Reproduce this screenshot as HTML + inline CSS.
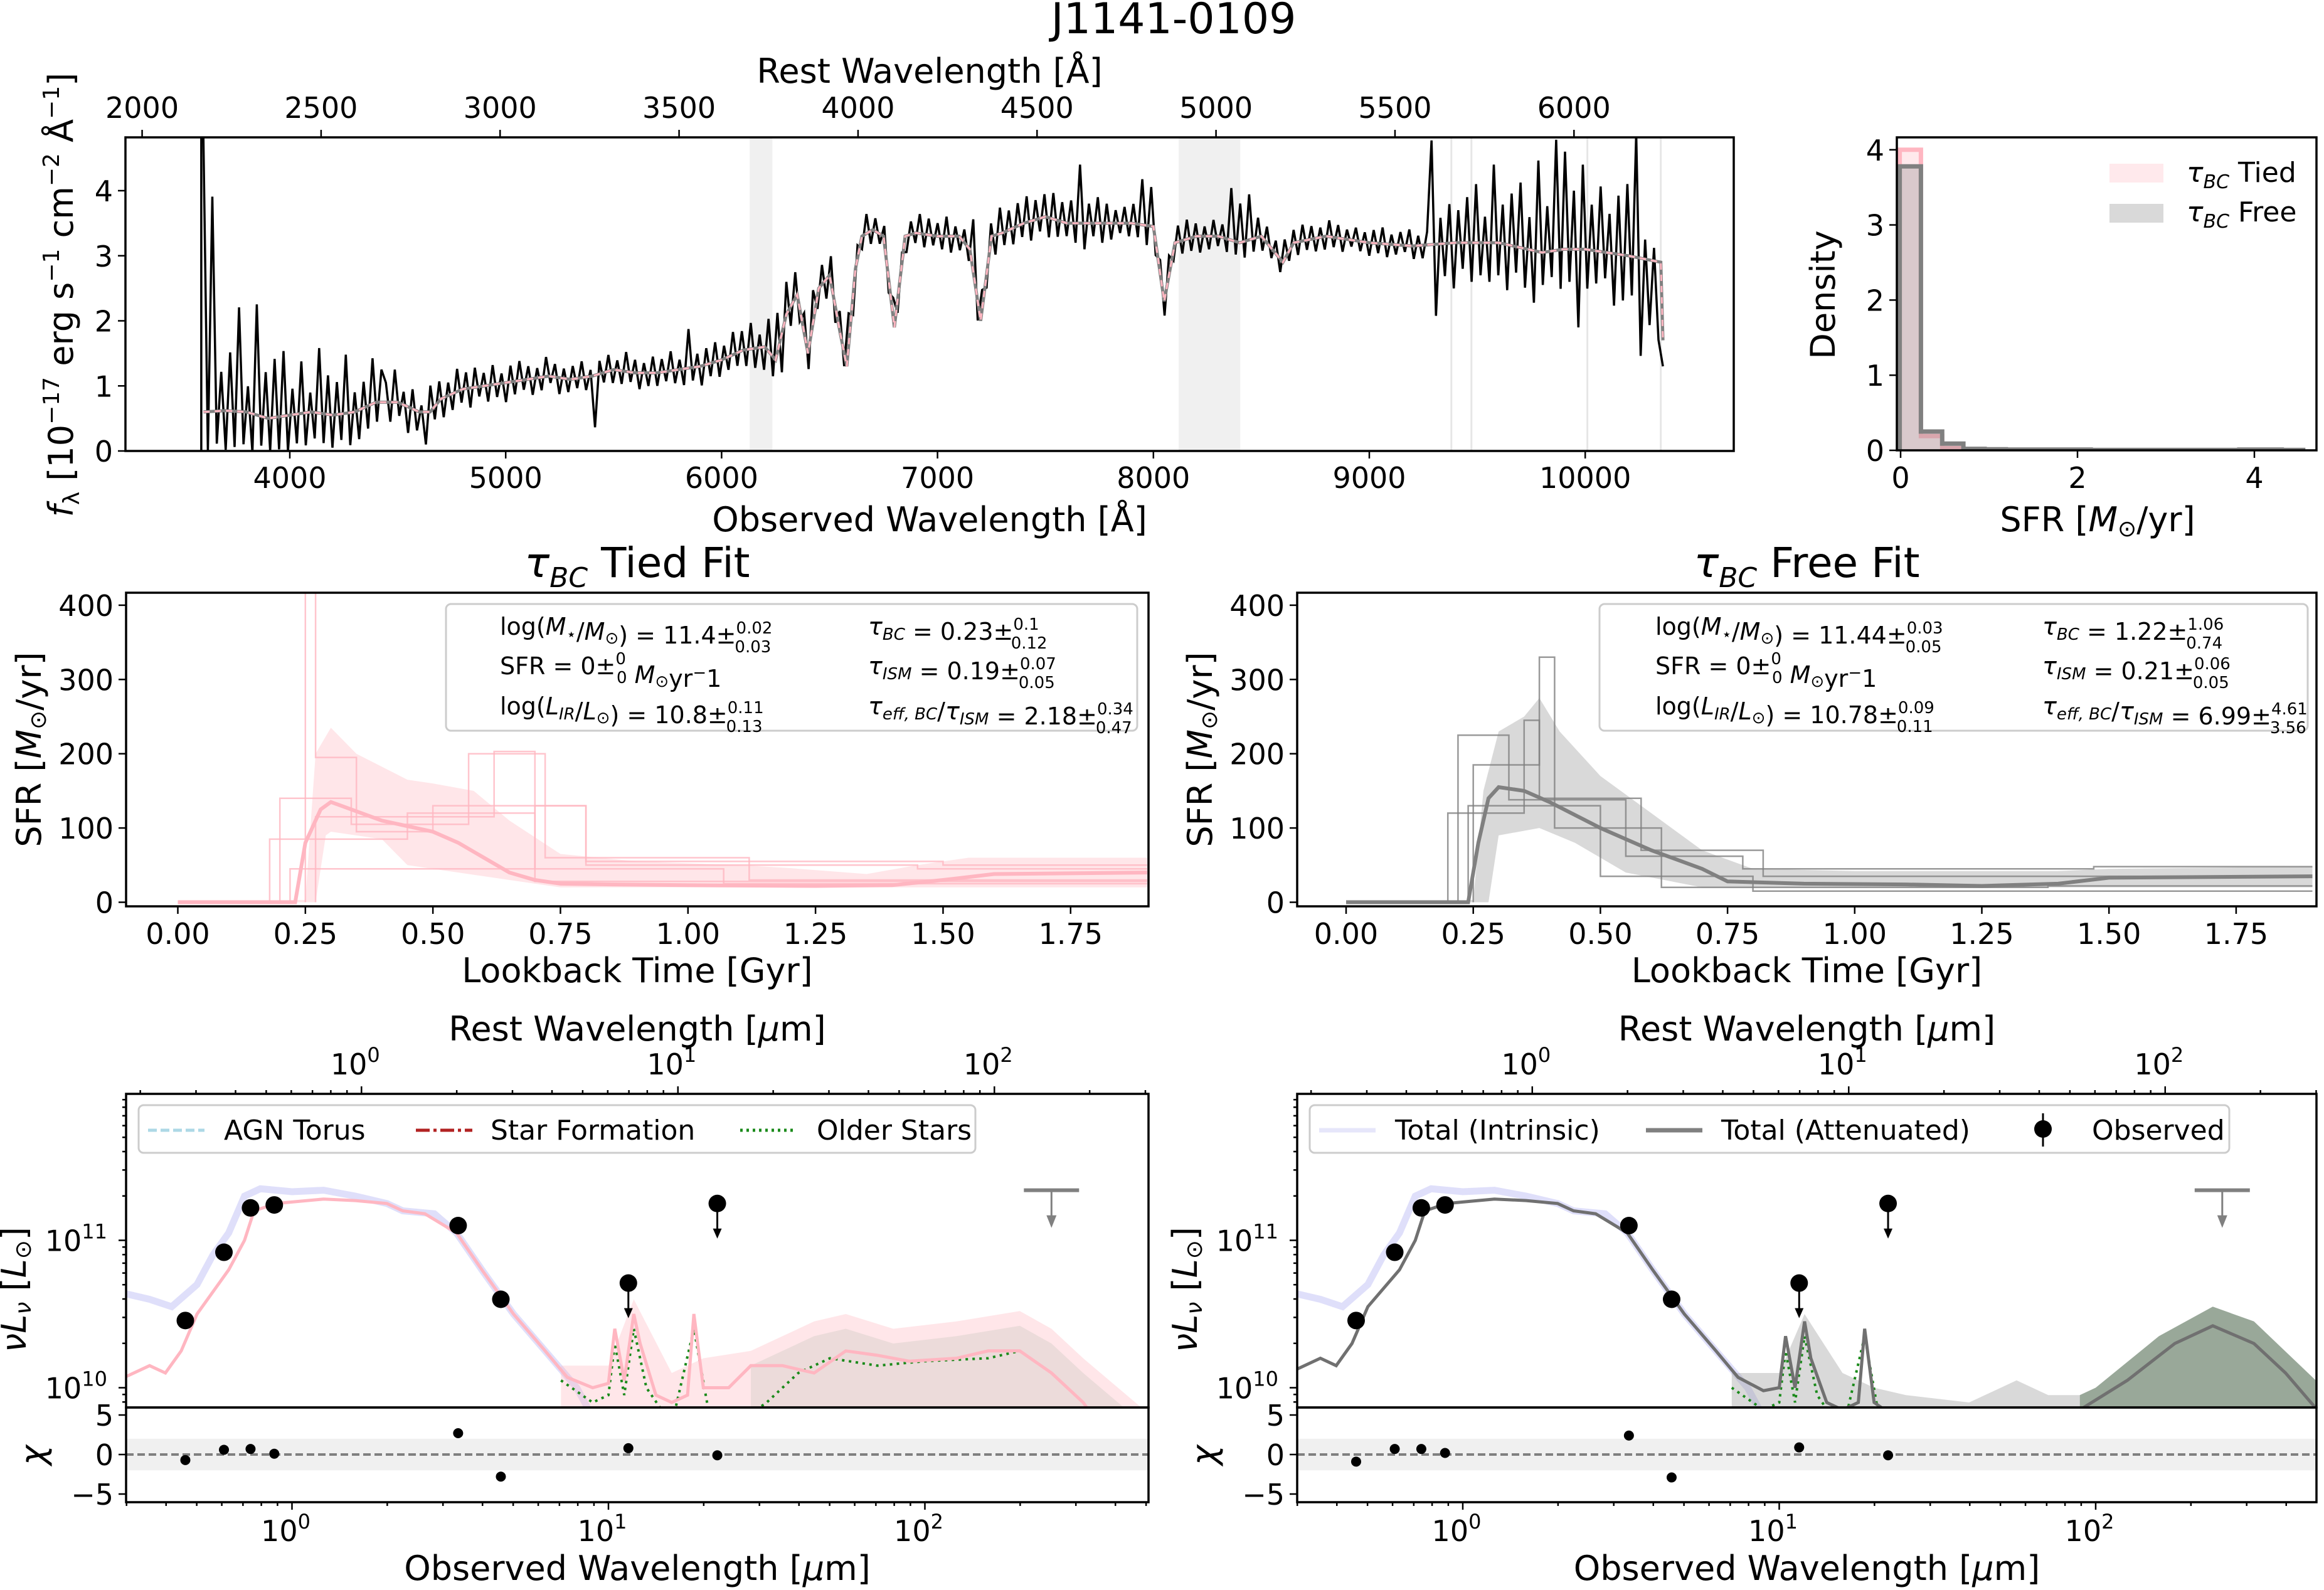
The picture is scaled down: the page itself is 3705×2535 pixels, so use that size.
<!DOCTYPE html>
<html><head><meta charset="utf-8">
<style>
html,body{margin:0;padding:0;background:#fff;}
svg{display:block;font-family:"DejaVu Sans","Liberation Sans",sans-serif;}
</style></head>
<body>
<svg id="fig" xmlns="http://www.w3.org/2000/svg" width="3705" height="2535" viewBox="0 0 3705 2535">
<rect width="3705" height="2535" fill="#fff"/>
<text x="1871" y="53" font-size="68" text-anchor="middle">J1141-0109</text>
</svg>
<script>
// ---------- DATA ----------
const specStart=3600;
const specEnd=10360;
const specDev=[4.2,-0.6,3.3,-0.5,0.6,-0.6,0.9,-0.55,1.6,-0.5,0.4,-0.6,1.7,-0.45,0.7,-0.5,0.9,-0.5,1.0,-0.55,0.4,-0.45,0.8,-0.5,0.3,-0.4,1.0,-0.45,0.6,-0.5,0.5,-0.4,0.9,-0.5,0.3,-0.45,0.4,-0.35,0.7,-0.3,0.5,
0.3,-0.3,0.5,-0.2,0.2,-0.4,0.3,-0.3,0.1,-0.5,0.4,-0.2,0.3,-0.3,0.2,-0.25,0.35,-0.2,0.25,-0.3,0.3,-0.15,0.2,-0.25,0.3,-0.2,0.15,-0.3,0.25,-0.2,0.3,-0.15,0.2,-0.25,0.15,-0.2,0.3,-0.1,0.2,-0.25,0.15,-0.2,0.2,-0.15,0.25,-0.2,0.1,-0.8,0.2,-0.15,0.25,-0.2,0.15,-0.2,0.3,-0.15,0.2,-0.25,0.15,-0.2,0.25,-0.2,0.2,-0.15,0.3,-0.2,0.15,-0.25,0.6,-0.2,0.2,-0.3,0.25,-0.2,0.3,-0.25,0.2,-0.2,0.35,-0.2,
0.3,-0.25,0.4,-0.3,0.2,-0.35,0.5,-0.3,0.6,-0.6,0.5,-0.3,0.4,-0.2,0.3,-0.3,0.5,-0.2,0.3,-0.3,0.4,-0.25,0.3,-0.2,0.5,-0.3,0.2,-0.2,0.3,-0.2,
0.2,-0.15,0.25,-0.2,0.3,-0.2,0.15,-0.25,0.2,-0.15,
0.3,-0.2,0.25,-0.15,0.2,-0.2,0.3,-0.25,0.15,-0.2,
0.2,-0.2,0.8,-0.3,0.3,-0.2,0.25,-0.3,0.4,-0.2,
0.3,-0.25,0.35,-0.2,0.4,-0.3,0.3,-0.2,0.35,-0.3,
0.4,-0.25,0.3,-0.2,0.35,-0.3,0.9,-0.4,0.3,-0.2,
0.4,-0.3,0.3,-0.25,0.2,-0.15,0.25,-0.2,0.3,-0.2,
0.7,-0.3,0.6,-0.2,0.2,-0.25,0.3,-0.15,0.25,-0.2,
0.3,-0.2,0.2,-0.25,0.15,-0.2,0.25,-0.15,0.2,-0.2,
0.8,-0.2,0.6,-0.25,0.7,-0.2,0.3,-0.2,0.25,-0.15,
0.2,-0.2,0.3,-0.15,0.2,-0.2,0.25,-0.15,0.2,-0.2,
0.15,-0.2,0.25,-0.15,0.2,-0.2,0.15,-0.1,0.2,-0.15,
0.15,-0.2,0.2,-0.15,0.25,-0.2,0.15,-0.15,0.2,-0.1,
0.25,-0.2,0.15,-0.2,0.2,
1.6,-1.1,0.4,-0.5,0.6,-0.7,0.5,-0.4,0.7,-0.6,0.9,-0.5,0.4,-0.6,1.2,-0.5,0.6,-0.7,0.8,-0.4,1.0,-0.6,0.5,-0.8,1.4,-0.5,0.7,-0.4,1.7,-0.6,1.5,-0.5,0.9,-1.2,1.3,-0.6,0.7,-0.5,1.0,-0.4,0.6,-0.8,0.9,-0.7,1.1,-0.6,1.9,-1.5,0.3,-1.0,0.2,-1.2,-0.4];
const modelWave=[3600,3700,3800,3900,4000,4100,4200,4300,4400,4500,4600,4650,4700,4800,4900,5000,5100,5200,5300,5400,5500,5600,5700,5800,5900,6000,6100,6200,6250,6300,6350,6400,6450,6500,6550,6580,6620,6650,6700,6750,6800,6850,6900,7000,7100,7150,7200,7250,7300,7400,7500,7600,7700,7800,7900,8000,8050,8100,8200,8300,8400,8500,8600,8650,8800,8900,9000,9200,9400,9600,9800,9900,10000,10100,10200,10350,10360];
const modelFlux=[0.6,0.62,0.6,0.5,0.55,0.6,0.55,0.6,0.75,0.75,0.6,0.6,0.8,0.95,1.0,1.05,1.1,1.15,1.1,1.15,1.25,1.2,1.2,1.25,1.3,1.4,1.55,1.6,1.4,2.1,2.4,1.5,2.5,2.7,1.8,1.3,2.8,3.3,3.4,3.3,1.9,3.3,3.35,3.3,3.3,3.1,2.0,3.3,3.35,3.5,3.6,3.5,3.5,3.5,3.5,3.45,2.3,3.2,3.3,3.3,3.2,3.3,2.9,3.2,3.3,3.25,3.2,3.15,3.2,3.2,3.05,3.1,3.1,3.05,3.0,2.9,1.7];
const maskedRanges=[[6130,6235],[8117,8402]];
const maskedLines=[9380,9473,10010,10350];
const specXTicks=[4000,5000,6000,7000,8000,9000,10000];
const specYTicks=[0,1,2,3,4];
const restTicks=[2000,2500,3000,3500,4000,4500,5000,5500,6000];
const redshift=0.658;

const histEdges=[-0.01,0.23,0.47,0.71,0.95,1.19,1.43,1.67,1.91,2.15,2.39,2.63,2.87,3.11,3.35,3.59,3.83,4.07,4.31,4.55];
const histTied=[4.0,0.19,0.03,0.01,0.01,0.005,0.005,0.005,0,0,0,0,0,0,0,0,0,0,0];
const histFree=[3.78,0.25,0.09,0.02,0.015,0.01,0.01,0.01,0.01,0.005,0.005,0.005,0.005,0.005,0.005,0.005,0.01,0.01,0.005];
const histXTicks=[0,2,4];
const histYTicks=[0,1,2,3,4];

const sfhTicksX=[0,0.25,0.5,0.75,1.0,1.25,1.5,1.75];
const sfhTickLabels=["0.00","0.25","0.50","0.75","1.00","1.25","1.50","1.75"];
const sfhTicksY=[0,100,200,300,400];
const tiedMedT=[0,0.2,0.23,0.25,0.28,0.3,0.32,0.4,0.5,0.55,0.6,0.65,0.7,0.75,0.85,1.0,1.25,1.4,1.5,1.6,1.9];
const tiedMedS=[0,0,0,80,125,135,130,110,95,80,60,40,30,25,24,23,22,23,30,38,40];
const tiedUpT=[0,0.25,0.27,0.3,0.35,0.45,0.5,0.58,0.65,0.75,0.9,1.1,1.2,1.35,1.45,1.55,1.9];
const tiedUpS=[3,3,200,235,200,165,160,150,110,65,55,50,46,38,50,60,60];
const tiedLoT=[0,0.27,0.29,0.3,0.4,0.45,0.55,0.65,0.75,1.0,1.9];
const tiedLoS=[0,0,90,95,85,50,40,30,20,20,20];
const freeMedT=[0,0.24,0.26,0.28,0.3,0.35,0.4,0.5,0.6,0.7,0.75,0.9,1.1,1.25,1.4,1.5,1.9];
const freeMedS=[0,0,80,140,155,150,135,100,70,45,28,25,24,22,25,33,35];
const freeUpT=[0,0.25,0.27,0.3,0.35,0.38,0.42,0.5,0.6,0.7,0.8,1.0,1.4,1.5,1.9];
const freeUpS=[3,3,150,230,250,275,230,170,120,70,45,42,42,45,48];
const freeLoT=[0,0.28,0.3,0.38,0.45,0.55,0.7,1.9];
const freeLoS=[0,0,90,100,80,40,20,20];
const tiedDraws=[
 [[0.18,0],[0.18,85],[0.45,85],[0.45,120],[0.7,120],[0.7,45],[1.07,45],[1.07,25],[1.9,25]],
 [[0.2,0],[0.2,140],[0.34,140],[0.34,105],[0.57,105],[0.57,200],[0.72,200],[0.72,60],[1.12,60],[1.12,30],[1.9,30]],
 [[0.25,0],[0.25,420],[0.27,420],[0.27,195],[0.35,195],[0.35,95],[0.5,95],[0.5,130],[0.8,130],[0.8,50],[1.45,50],[1.45,45],[1.9,45]],
 [[0.22,0],[0.22,45],[0.7,45],[0.7,130],[0.8,130],[0.8,55],[1.5,55],[1.5,50],[1.9,50]],
 [[0.27,0],[0.27,115],[0.62,115],[0.62,203],[0.7,203],[0.7,28],[1.9,28]]];
const freeDraws=[
 [[0.2,0],[0.2,120],[0.35,120],[0.35,245],[0.38,245],[0.38,140],[0.58,140],[0.58,70],[0.82,70],[0.82,35],[1.9,35]],
 [[0.22,0],[0.22,225],[0.32,225],[0.32,138],[0.55,138],[0.55,62],[0.78,62],[0.78,45],[1.47,45],[1.47,48],[1.9,48]],
 [[0.25,0],[0.25,185],[0.38,185],[0.38,330],[0.41,330],[0.41,100],[0.62,100],[0.62,20],[1.38,20],[1.38,22],[1.9,22]],
 [[0.24,0],[0.24,130],[0.5,130],[0.5,35],[0.8,35],[0.8,15],[1.9,15]]];

const obsLogWave=[-0.337,-0.215,-0.131,-0.056,0.525,0.660,1.063,1.344];
const obsLogL=[10.456,10.919,11.22,11.24,11.10,10.60,10.71,11.25];
const obsUpper=[0,0,0,0,0,0,1,1];
const chiTied=[-0.7,0.6,0.7,0.1,2.7,-2.8,0.8,-0.1];
const chiFree=[-0.9,0.7,0.7,0.2,2.4,-2.9,0.9,-0.1];
const limitLogWave=[2.40];
const limitLogL=[11.34];
const intrW=[-0.55,-0.45,-0.38,-0.3,-0.25,-0.2,-0.15,-0.1,0,0.1,0.2,0.3,0.35,0.45,0.52,0.6,0.7,0.8,0.9,0.95];
const intrL=[10.65,10.6,10.55,10.7,10.9,11.05,11.3,11.35,11.33,11.34,11.3,11.25,11.2,11.18,11.05,10.8,10.5,10.25,10.0,9.8];
const tiedTotW=[-0.55,-0.45,-0.4,-0.35,-0.3,-0.2,-0.15,-0.12,-0.05,0,0.1,0.2,0.3,0.35,0.42,0.52,0.6,0.7,0.8,0.87,0.95,1.0,1.02,1.05,1.08,1.1,1.15,1.2,1.25,1.27,1.3,1.38,1.45,1.55,1.65,1.75,1.85,1.95,2.1,2.2,2.3,2.4,2.5,2.6,2.72];
const tiedTotL=[10.05,10.15,10.1,10.25,10.5,10.8,11.0,11.2,11.25,11.26,11.28,11.27,11.25,11.2,11.18,11.05,10.8,10.5,10.25,10.07,10.0,10.03,10.4,10.05,10.5,10.3,9.95,9.9,9.95,10.5,10.0,10.0,10.15,10.15,10.1,10.25,10.22,10.18,10.2,10.25,10.25,10.1,9.9,9.6,9.2];
const tiedBandW=[0.85,1.0,1.08,1.2,1.3,1.45,1.55,1.65,1.75,1.9,2.1,2.3,2.4,2.5,2.72];
const tiedBandUp=[10.15,10.15,10.6,10.1,10.2,10.25,10.35,10.45,10.5,10.4,10.45,10.52,10.4,10.2,9.8];
const olderW=[0.85,0.95,1.0,1.02,1.05,1.08,1.12,1.2,1.27,1.32,1.4,1.5,1.6,1.7,1.85,2.0,2.2,2.3];
const olderL=[10.05,9.9,9.95,10.3,9.95,10.4,10.0,9.75,10.4,9.8,9.75,9.9,10.1,10.2,10.15,10.18,10.2,10.25];
const freeOlderW=[0.85,0.95,1.0,1.02,1.05,1.08,1.12,1.2,1.27,1.32,1.4,1.45];
const freeOlderL=[10.0,9.85,9.9,10.25,9.9,10.35,9.95,9.7,10.35,9.75,9.7,9.6];
const freeTotW=[-0.55,-0.45,-0.4,-0.35,-0.3,-0.2,-0.15,-0.12,-0.05,0,0.1,0.2,0.3,0.35,0.42,0.52,0.6,0.7,0.8,0.87,0.95,1.0,1.02,1.05,1.08,1.1,1.15,1.2,1.25,1.27,1.3,1.4,1.5,1.95,2.1,2.25,2.37,2.5,2.6,2.7];
const freeTotL=[10.1,10.2,10.15,10.3,10.55,10.8,11.0,11.2,11.25,11.26,11.28,11.27,11.25,11.2,11.18,11.05,10.8,10.5,10.25,10.07,9.98,10.0,10.35,10.0,10.45,10.2,9.9,9.85,9.9,10.4,9.9,9.75,9.6,9.85,10.05,10.3,10.42,10.3,10.1,9.85];
const freeBandW=[0.85,1.0,1.08,1.2,1.3,1.4,1.6,1.75,1.85,1.95,2.0,2.2,2.37,2.5,2.72];
const freeBandUp=[10.1,10.1,10.5,10.1,10.0,9.95,9.9,10.05,9.95,9.95,10.0,10.35,10.55,10.45,10.0];
const sedLogTicks=[0,1,2];
const chiTicks=[-5,0,5];

// ---------- HELPERS ----------
const NS="http://www.w3.org/2000/svg";
const svg=document.getElementById('fig');
function mk(tag,attrs,parent){const e=document.createElementNS(NS,tag);for(const k in attrs)e.setAttribute(k,attrs[k]);(parent||svg).appendChild(e);return e;}
function pts(xs,ys,fx,fy){return xs.map((x,i)=>fx(x).toFixed(1)+','+fy(ys[i]).toFixed(1)).join(' ');}
function interp(xs,ys,x){if(x<=xs[0])return ys[0];for(let i=1;i<xs.length;i++){if(x<=xs[i]){const f=(x-xs[i-1])/(xs[i]-xs[i-1]);return ys[i-1]+f*(ys[i]-ys[i-1]);}}return ys[ys.length-1];}
let clipN=0;
function clipFor(x0,y0,x1,y1){const id='c'+(clipN++);const cp=mk('clipPath',{id:id});mk('rect',{x:x0,y:y0,width:x1-x0,height:y1-y0},cp);const g=mk('g',{'clip-path':'url(#'+id+')'});return g;}
function txt(x,y,s,size,anchor,parent){const t=mk('text',{x:x,y:y,'font-size':size,'text-anchor':anchor||'middle'},parent);t.textContent=s;return t;}
function frame(x0,y0,x1,y1,name){const r=mk('rect',{x:x0,y:y0,width:x1-x0,height:y1-y0,fill:'none',stroke:'#000','stroke-width':3.5});return r;}
function tickX(x,y,len,dir){mk('line',{x1:x,y1:y,x2:x,y2:y+dir*len,stroke:'#000','stroke-width':2.5});}
function tickY(x,y,len){mk('line',{x1:x,y1:y,x2:x-len,y2:y,stroke:'#000','stroke-width':2.5});}

// ---------- SPECTRUM ----------
const SX=l=>462+(l-4000)*0.3442, SY=f=>719-f*103.75;
{const g=clipFor(200,219,2764,719);


maskedRanges.forEach(r=>{const e=mk('rect',{x:SX(r[0]),y:219,width:SX(r[1])-SX(r[0]),height:500,fill:'#f0f0f0'},g);});
maskedLines.forEach(l=>{const e=mk('line',{x1:SX(l),x2:SX(l),y1:219,y2:719,stroke:'#e6e6e6','stroke-width':3},g);});
const step=(specEnd-specStart)/(specDev.length-1);
const sw=specDev.map((d,i)=>specStart+i*step);
const sf=specDev.map((d,i)=>interp(modelWave,modelFlux,sw[i])+d);
const ob=mk('polyline',{points:SX(3590)+','+SY(0)+' '+SX(3590)+','+SY(4.9)+' '+pts(sw,sf,SX,SY),fill:'none',stroke:'#000','stroke-width':3.5,'stroke-linejoin':'miter'},g);

const m1=mk('polyline',{points:pts(modelWave,modelFlux,SX,SY),fill:'none',stroke:'#808080','stroke-width':5},g);

const m2=mk('polyline',{points:pts(modelWave,modelFlux,SX,SY),fill:'none',stroke:'#ffb6c1','stroke-width':3,'stroke-dasharray':'10 8'},g);
}
frame(200,219,2764,719,'spectrum-axes');
specXTicks.forEach(v=>{tickX(SX(v),719,12,1);const t=txt(SX(v),778,v,46);});
specYTicks.forEach(v=>{tickY(200,SY(v),12);const t=txt(180,SY(v)+17,v,46,'end');});
restTicks.forEach(v=>{const x=SX(v*(1+redshift));tickX(x,219,12,-1);const t=txt(x,188,v,46);});
{let t=txt(1482,847,'Observed Wavelength [Å]',54);
t=txt(1482,132,'Rest Wavelength [Å]',54);
t=mk('text',{x:0,y:0,'font-size':54,'text-anchor':'middle',transform:'translate(116,470) rotate(-90)'});
t.innerHTML='<tspan font-style="italic">f</tspan><tspan font-size="36" dy="10">λ</tspan><tspan dy="-10"> [10</tspan><tspan font-size="36" dy="-22">−17</tspan><tspan dy="22"> erg s</tspan><tspan font-size="36" dy="-22">−1</tspan><tspan dy="22"> cm</tspan><tspan font-size="36" dy="-22">−2</tspan><tspan dy="22"> Å</tspan><tspan font-size="36" dy="-22">−1</tspan><tspan dy="22">]</tspan>';
}

// ---------- HISTOGRAM ----------
const HX=v=>3030+v*141, HY=d=>718-d*119.8;
function histPath(vals){let d='M'+HX(histEdges[0])+','+HY(0);vals.forEach((v,i)=>{d+=' L'+HX(histEdges[i]).toFixed(1)+','+HY(v).toFixed(1)+' L'+HX(histEdges[i+1]).toFixed(1)+','+HY(v).toFixed(1);});d+=' L'+HX(histEdges[vals.length])+','+HY(0);return d;}
{const g=clipFor(3024,219,3693,718);
const a=mk('path',{d:histPath(histTied),fill:'rgba(255,182,193,0.3)',stroke:'#ffb6c1','stroke-width':7},g);

const b=mk('path',{d:histPath(histFree),fill:'rgba(128,128,128,0.3)',stroke:'#808080','stroke-width':7},g);
}
frame(3024,219,3693,718,'histogram-axes');
histXTicks.forEach(v=>{tickX(HX(v),718,12,1);const t=txt(HX(v),778,v,46);});
histYTicks.forEach(v=>{tickY(3024,HY(v),12);const t=txt(3004,HY(v)+17,v,46,'end');});
{let r=mk('rect',{x:3363,y:261,width:86,height:30,fill:'#ffe9ec'});
r=mk('rect',{x:3363,y:325,width:86,height:30,fill:'#d9d9d9'});
let t=mk('text',{x:3486,y:290,'font-size':44});t.innerHTML='<tspan font-style="italic">τ</tspan><tspan font-size="30" dy="10" font-style="italic">BC</tspan><tspan dy="-10"> Tied</tspan>';
t=mk('text',{x:3486,y:353,'font-size':44});t.innerHTML='<tspan font-style="italic">τ</tspan><tspan font-size="30" dy="10" font-style="italic">BC</tspan><tspan dy="-10"> Free</tspan>';
t=mk('text',{x:0,y:0,'font-size':54,'text-anchor':'middle',transform:'translate(2925,470) rotate(-90)'});t.textContent='Density';
t=mk('text',{x:3344,y:847,'font-size':54,'text-anchor':'middle'});t.innerHTML='SFR [<tspan font-style="italic">M</tspan><tspan font-size="36" dy="8">⊙</tspan><tspan dy="-8">/yr]</tspan>';}

// ---------- SFH PANELS ----------
function sfhPanel(x0,x1,zero,title,medT,medS,upT,upS,loT,loS,draws,col,bandCol,stepCol,info,name){
 const FX=t=>zero+t*813.3*( (x1-x0)/1630 ), FY=s=>1438.5-s*1.184;
 const g=clipFor(x0,945,x1,1445);
 
 
 const up=upT.map((t,i)=>FX(t).toFixed(1)+','+FY(upS[i]).toFixed(1));
 const lo=loT.map((t,i)=>FX(t).toFixed(1)+','+FY(loS[i]).toFixed(1)).reverse();
 const band=mk('polygon',{points:up.concat(lo).join(' '),fill:bandCol},g);
 
 draws.forEach(d=>{const p=mk('polyline',{points:d.map(q=>FX(q[0]).toFixed(1)+','+FY(q[1]).toFixed(1)).join(' '),fill:'none',stroke:stepCol,'stroke-width':2.5},g);
  });
 const m=mk('polyline',{points:pts(medT,medS,FX,FY),fill:'none',stroke:col,'stroke-width':6},g);
 
 frame(x0,945,x1,1445,name+'-axes');
 sfhTicksX.forEach((v,i)=>{tickX(FX(v),1445,12,1);const t=txt(FX(v),1505,sfhTickLabels[i],46);});
 sfhTicksY.forEach(v=>{tickY(x0,FY(v),12);const t=txt(x0-20,FY(v)+17,v,46,'end');});
 let t=txt((x0+x1)/2,1566,'Lookback Time [Gyr]',54);
 t=mk('text',{x:0,y:0,'font-size':54,'text-anchor':'middle',transform:'translate('+(x0-136)+',1195) rotate(-90)'});
 t.innerHTML='SFR [<tspan font-style="italic">M</tspan><tspan font-size="36" dy="8">⊙</tspan><tspan dy="-8">/yr]</tspan>';
 
 t=mk('text',{x:(x0+x1)/2,y:920,'font-size':66,'text-anchor':'middle'});
 t.innerHTML='<tspan font-style="italic">τ</tspan><tspan font-size="44" dy="16" font-style="italic">BC</tspan><tspan dy="-16"> '+title+'</tspan>';
 
 const bx=info.box;
 const r=mk('rect',{x:bx[0],y:963,width:bx[1]-bx[0],height:202,rx:8,fill:'#fff',stroke:'#cccccc','stroke-width':3});
 
 const ys=[1012,1075,1139];
 info.rows.forEach((row,i)=>{[0,1].forEach(c=>{const e=mk('text',{x:info.cols[c],y:ys[i],'font-size':38});e.innerHTML=row[c];});});
}
function pm(v,a,b){return v+'±<tspan font-size="26" dy="-16">'+a+'</tspan><tspan font-size="26" dx="-'+(String(a).length*15)+'" dy="30">'+b+'</tspan><tspan dy="-14"></tspan>';}
const SUN='<tspan font-size="26" dy="6">⊙</tspan><tspan dy="-6"></tspan>';
function sub(s){return '<tspan font-size="26" dy="8" font-style="italic">'+s+'</tspan><tspan dy="-8"></tspan>';}
sfhPanel(201,1831,283.5,'Tied Fit',tiedMedT,tiedMedS,tiedUpT,tiedUpS,tiedLoT,tiedLoS,tiedDraws,'#ffb6c1','rgba(255,182,193,0.35)','rgba(255,182,193,0.8)',
 {box:[711,1813],cols:[797,1384],rows:[
  ['log(<tspan font-style="italic">M</tspan>'+sub('⋆')+'/<tspan font-style="italic">M</tspan>'+SUN+') = '+pm('11.4','0.02','0.03'),'<tspan font-style="italic">τ</tspan>'+sub('BC')+' = '+pm('0.23','0.1','0.12')],
  ['SFR = '+pm('0','0','0')+' <tspan font-style="italic">M</tspan>'+SUN+'yr<tspan font-size="26" dy="-14">−</tspan><tspan dy="14">1</tspan>','<tspan font-style="italic">τ</tspan>'+sub('ISM')+' = '+pm('0.19','0.07','0.05')],
  ['log(<tspan font-style="italic">L</tspan>'+sub('IR')+'/<tspan font-style="italic">L</tspan>'+SUN+') = '+pm('10.8','0.11','0.13'),'<tspan font-style="italic">τ</tspan>'+sub('eff, BC')+'/<tspan font-style="italic">τ</tspan>'+sub('ISM')+' = '+pm('2.18','0.34','0.47')]]},'sfh-tied');
sfhPanel(2068,3693,2146,'Free Fit',freeMedT,freeMedS,freeUpT,freeUpS,freeLoT,freeLoS,freeDraws,'#808080','rgba(128,128,128,0.3)','rgba(128,128,128,0.8)',
 {box:[2550,3679],cols:[2639,3256],rows:[
  ['log(<tspan font-style="italic">M</tspan>'+sub('⋆')+'/<tspan font-style="italic">M</tspan>'+SUN+') = '+pm('11.44','0.03','0.05'),'<tspan font-style="italic">τ</tspan>'+sub('BC')+' = '+pm('1.22','1.06','0.74')],
  ['SFR = '+pm('0','0','0')+' <tspan font-style="italic">M</tspan>'+SUN+'yr<tspan font-size="26" dy="-14">−</tspan><tspan dy="14">1</tspan>','<tspan font-style="italic">τ</tspan>'+sub('ISM')+' = '+pm('0.21','0.06','0.05')],
  ['log(<tspan font-style="italic">L</tspan>'+sub('IR')+'/<tspan font-style="italic">L</tspan>'+SUN+') = '+pm('10.78','0.09','0.11'),'<tspan font-style="italic">τ</tspan>'+sub('eff, BC')+'/<tspan font-style="italic">τ</tspan>'+sub('ISM')+' = '+pm('6.99','4.61','3.56')]]},'sfh-free');

// ---------- SED PANELS ----------
function sedPanel(x0,x1,zero,tied,name){
 const LX=l=>zero+l*504.5, LY=v=>1977.5-(v-11)*235, RY=c=>2319-c*12.6;
 const g=clipFor(x0,1744,x1,2244);
 
 
 const BOT=9.7;
 const totW=tied?tiedTotW:freeTotW, totL=tied?tiedTotL:freeTotL;
 let e=mk('polyline',{points:pts(intrW,intrL,LX,LY),fill:'none',stroke:'rgba(220,220,250,0.9)','stroke-width':11},g);
 
 if(tied){
  const up=tiedBandW.map((w,i)=>LX(w).toFixed(1)+','+LY(tiedBandUp[i]).toFixed(1));
  e=mk('polygon',{points:up.join(' ')+' '+LX(2.72)+','+LY(BOT)+' '+LX(0.85)+','+LY(BOT),fill:'rgba(255,182,193,0.35)'},g);
  
  const up2=tiedBandW.slice(5).map((w,i)=>LX(w).toFixed(1)+','+LY(tiedBandUp[i+5]-0.1).toFixed(1));
  e=mk('polygon',{points:up2.join(' ')+' '+LX(2.72)+','+LY(BOT)+' '+LX(1.45)+','+LY(BOT),fill:'rgba(150,170,150,0.18)'},g);
  
 }else{
  const up=freeBandW.map((w,i)=>LX(w).toFixed(1)+','+LY(freeBandUp[i]).toFixed(1));
  e=mk('polygon',{points:up.join(' ')+' '+LX(2.72)+','+LY(BOT)+' '+LX(0.85)+','+LY(BOT),fill:'rgba(160,160,160,0.4)'},g);
  
  const hi=freeBandW.slice(9).map((w,i)=>LX(w).toFixed(1)+','+LY(freeBandUp[i+9]).toFixed(1));
  e=mk('polygon',{points:LX(1.95)+','+LY(BOT)+' '+hi.join(' ')+' '+LX(2.72)+','+LY(BOT),fill:'rgba(90,120,90,0.5)'},g);
  
 }
 const oW=tied?olderW:freeOlderW, oL=tied?olderL:freeOlderL;
 e=mk('polyline',{points:pts(oW,oL,LX,LY),fill:'none',stroke:'#1a8a1a','stroke-width':4,'stroke-dasharray':'4 7'},g);
 
 e=mk('polyline',{points:pts(totW,totL,LX,LY),fill:'none',stroke:tied?'#ffb6c1':'#707070','stroke-width':5},g);
 
 obsLogWave.forEach((w,i)=>{const c=mk('circle',{cx:LX(w),cy:LY(obsLogL[i]),r:14,fill:'#000'},g);
  
  if(obsUpper[i]){mk('line',{x1:LX(w),x2:LX(w),y1:LY(obsLogL[i]),y2:LY(obsLogL[i])+48,stroke:'#000','stroke-width':3},g);
   mk('polygon',{points:(LX(w)-7)+','+(LY(obsLogL[i])+40)+' '+(LX(w)+7)+','+(LY(obsLogL[i])+40)+' '+LX(w)+','+(LY(obsLogL[i])+56),fill:'#000'},g);}});
 limitLogWave.forEach((w,i)=>{const y=LY(limitLogL[i]);
  const l=mk('line',{x1:LX(w)-44,x2:LX(w)+44,y1:y,y2:y,stroke:'#808080','stroke-width':6},g);
  
  mk('line',{x1:LX(w),x2:LX(w),y1:y,y2:y+52,stroke:'#808080','stroke-width':3},g);
  mk('polygon',{points:(LX(w)-8)+','+(y+40)+' '+(LX(w)+8)+','+(y+40)+' '+LX(w)+','+(y+60),fill:'#808080'},g);});
 frame(x0,1744,x1,2244,name+'-axes');
 for(let d=-1;d<=2;d++)for(let m=1;m<10;m++){const l=d+Math.log10(m);const x=LX(l);if(x<x0||x>x1)continue;tickX(x,2395,m===1?12:6,1);}
 for(let d=-1;d<=2;d++)for(let m=1;m<10;m++){const l=d+Math.log10(m);const x=LX(l+Math.log10(1.658));if(x<x0||x>x1)continue;tickX(x,1744,m===1?12:6,-1);}
 for(let d=9;d<=11;d++)for(let m=1;m<10;m++){const v=d+Math.log10(m);const y=LY(v);if(y<1744||y>2244)continue;tickY(x0,y,m===1?12:6);}
 sedLogTicks.forEach(p=>{let t=mk('text',{x:LX(p)-10,y:2457,'font-size':46,'text-anchor':'middle'});t.innerHTML='10<tspan font-size="32" dy="-20">'+p+'</tspan>';
  
  t=mk('text',{x:LX(p+Math.log10(1.658))-10,y:1713,'font-size':46,'text-anchor':'middle'});t.innerHTML='10<tspan font-size="32" dy="-20">'+p+'</tspan>';
  });
 [10,11].forEach(p=>{const t=mk('text',{x:x0-30,y:LY(p)+17,'font-size':46,'text-anchor':'end'});t.innerHTML='10<tspan font-size="32" dy="-20">'+p+'</tspan>';
  });
 e=mk('rect',{x:x0,y:RY(2),width:x1-x0,height:RY(-2)-RY(2),fill:'#f0f0f0'});
 
 e=mk('line',{x1:x0,x2:x1,y1:RY(0),y2:RY(0),stroke:'#808080','stroke-width':4,'stroke-dasharray':'12 6'});
 
 const chi=tied?chiTied:chiFree;
 obsLogWave.forEach((w,i)=>{const c=mk('circle',{cx:LX(w),cy:RY(chi[i]),r:8,fill:'#000'});});
 frame(x0,2244,x1,2395,name+'-residual-axes');
 chiTicks.forEach(v=>{tickY(x0,RY(v),12);const t=txt(x0-20,RY(v)+17,v===-5?'−5':v,46,'end');});
 let t=mk('text',{x:(x0+x1)/2,y:2519,'font-size':54,'text-anchor':'middle'});t.innerHTML='Observed Wavelength [<tspan font-style="italic">μ</tspan>m]';
 t=mk('text',{x:(x0+x1)/2,y:1659,'font-size':54,'text-anchor':'middle'});t.innerHTML='Rest Wavelength [<tspan font-style="italic">μ</tspan>m]';
 t=mk('text',{x:0,y:0,'font-size':54,'text-anchor':'middle',transform:'translate('+(x0-160)+',2056) rotate(-90)'});
 t.innerHTML='<tspan font-style="italic">νL</tspan><tspan font-size="36" dy="8" font-style="italic">ν</tspan><tspan dy="-8"> [</tspan><tspan font-style="italic">L</tspan><tspan font-size="36" dy="8">⊙</tspan><tspan dy="-8">]</tspan>';
 
 t=mk('text',{x:0,y:0,'font-size':54,'text-anchor':'middle','font-style':'italic',transform:'translate('+(x0-130)+',2320) rotate(-90)'});t.textContent='χ';
 
}
sedPanel(201,1831,465.5,true,'sed-tied');
sedPanel(2068,3693,2332,false,'sed-free');
{let r=mk('rect',{x:221,y:1762,width:1334,height:76,rx:8,fill:'#fff',stroke:'#cccccc','stroke-width':3});
mk('line',{x1:236,x2:326,y1:1802,y2:1802,stroke:'#add8e6','stroke-width':5,'stroke-dasharray':'14 6'});
mk('line',{x1:663,x2:753,y1:1802,y2:1802,stroke:'#b22222','stroke-width':5,'stroke-dasharray':'22 6 5 6'});
mk('line',{x1:1180,x2:1270,y1:1802,y2:1802,stroke:'#1a8a1a','stroke-width':5,'stroke-dasharray':'4 6'});
[['AGN Torus',357],['Star Formation',782],['Older Stars',1302]].forEach(a=>{const t=txt(a[1],1817,a[0],44,'start');});
r=mk('rect',{x:2088,y:1762,width:1466,height:76,rx:8,fill:'#fff',stroke:'#cccccc','stroke-width':3});
mk('line',{x1:2103,x2:2193,y1:1802,y2:1802,stroke:'#e6e6fa','stroke-width':7});
mk('line',{x1:2624,x2:2714,y1:1802,y2:1802,stroke:'#808080','stroke-width':7});
mk('circle',{cx:3257,cy:1800,r:14,fill:'#000'});
mk('line',{x1:3257,x2:3257,y1:1775,y2:1828,stroke:'#000','stroke-width':3});
[['Total (Intrinsic)',2224],['Total (Attenuated)',2744],['Observed',3335]].forEach(a=>{const t=txt(a[1],1817,a[0],44,'start');});}
</script>
</body></html>
